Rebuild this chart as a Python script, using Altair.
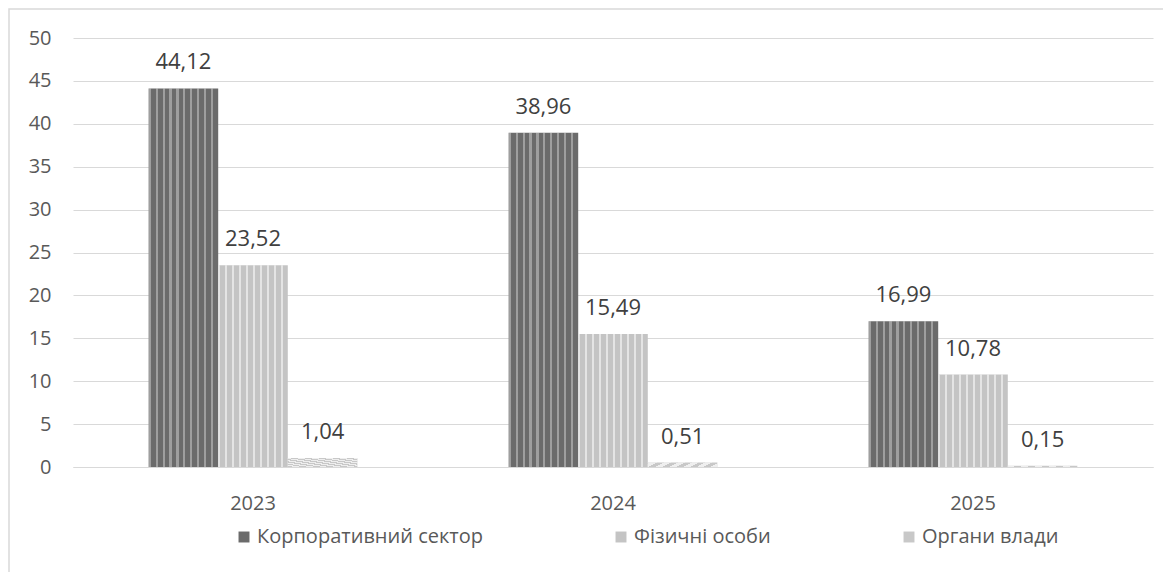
import altair as alt
import pandas as pd

years = ["2023", "2024", "2025"]
series = ["Корпоративний сектор", "Фізичні особи", "Органи влади"]
corporate = [44.12, 38.96, 16.99]
physical = [23.52, 15.49, 10.78]
government = [1.04, 0.51, 0.15]
y_ticks = list(range(0, 51, 5))

rows = []
for i, yr in enumerate(years):
    for s, vals in zip(series, [corporate, physical, government]):
        v = vals[i]
        rows.append({"year": yr, "series": s, "value": v,
                     "label": f"{v:.2f}".replace(".", ",")})
df = pd.DataFrame(rows)

FONT = "Open Sans"
W, H = 1080, 429


def stripes(n, on_frac, color_on, direction="x"):
    """Hard-edged repeating stripes as a linear gradient (texture overlay)."""
    stops = []
    for k in range(n):
        a = k / n
        b = (k + on_frac) / n
        c = (k + 1) / n
        stops += [
            {"offset": a, "color": color_on},
            {"offset": b, "color": color_on},
            {"offset": b, "color": "rgba(255,255,255,0)"},
            {"offset": c, "color": "rgba(255,255,255,0)"},
        ]
    g = {"gradient": "linear", "stops": stops, "x1": 0, "y1": 0, "x2": 1, "y2": 0}
    if direction != "x":
        g["y2"] = 1
    return g


base = alt.Chart(df).encode(
    x=alt.X("year:N", sort=years, title=None,
            scale=alt.Scale(paddingInner=0.42, paddingOuter=0.21),
            axis=alt.Axis(labelAngle=0, ticks=False, domainColor="#d9d9d9",
                          labelPadding=26, labelFontSize=20, labelColor="#595959",
                          labelFont=FONT)),
    xOffset=alt.XOffset("series:N", sort=series,
                        scale=alt.Scale(paddingInner=0, paddingOuter=0)),
)

bars = base.mark_bar().encode(
    y=alt.Y("value:Q", title=None,
            scale=alt.Scale(domain=[0, 50], nice=False),
            axis=alt.Axis(values=y_ticks, domain=False, ticks=False, grid=True,
                          gridColor="#d9d9d9", labelPadding=22, labelFontSize=20,
                          labelColor="#595959", labelFont=FONT)),
    color=alt.Color("series:N", sort=series,
                    scale=alt.Scale(domain=series, range=["#6b6b6b", "#c4c4c4", "#c8c8c8"]),
                    legend=alt.Legend(title=None, orient="none", direction="horizontal",
                                      legendX=161, legendY=489, symbolType="square",
                                      symbolSize=120, symbolStrokeWidth=0,
                                      columnPadding=128, labelOffset=3,
                                      labelFontSize=20, labelColor="#595959",
                                      labelFont=FONT, labelLimit=400)),
)

tex_corp = base.transform_filter(alt.datum.series == series[0]).mark_bar(
    fill=stripes(10, 0.3, "rgba(255,255,255,0.35)")).encode(y="value:Q")
tex_phys = base.transform_filter(alt.datum.series == series[1]).mark_bar(
    fill=stripes(10, 0.3, "rgba(255,255,255,0.55)")).encode(y="value:Q")
tex_gov = base.transform_filter(alt.datum.series == series[2]).mark_bar(
    fill=stripes(10, 0.5, "rgba(255,255,255,0.7)", "diag")).encode(y="value:Q")

labels = base.mark_text(baseline="alphabetic", dy=-19, fontSize=22,
                        color="#404040", font=FONT).encode(
    y="value:Q", text="label:N")

border = alt.Chart(pd.DataFrame({"a": [0]})).mark_rect(
    stroke="#d9d9d9", strokeWidth=1.5, fillOpacity=0).encode(
    x=alt.value(-64), x2=alt.value(W + 200), y=alt.value(-29), y2=alt.value(H + 300))

chart = alt.layer(border, bars, tex_corp, tex_phys, tex_gov, labels).properties(
    width=W, height=H,
    padding={"left": 65, "top": 30, "right": 10, "bottom": 105},
    autosize=alt.AutoSizeParams(type="none"),
).configure_view(stroke=None)

chart.save("out.html", embed_options={"renderer": "svg", "actions": False})
